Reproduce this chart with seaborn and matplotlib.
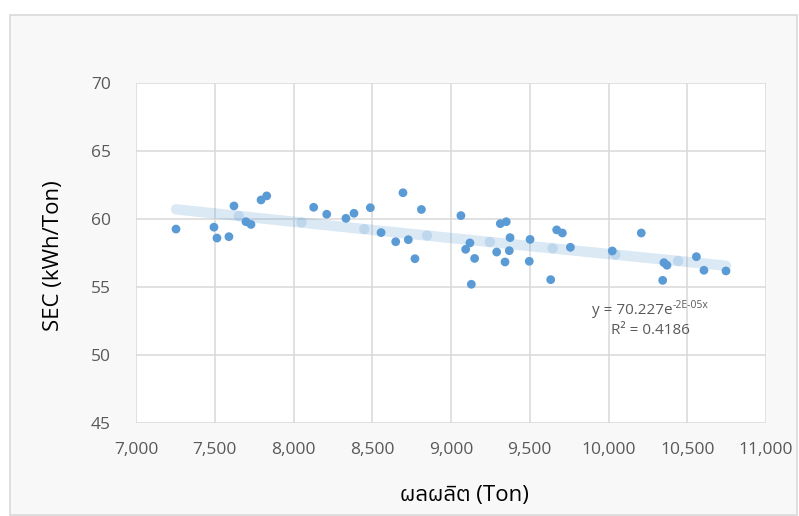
import numpy as np
import pandas as pd
import matplotlib
matplotlib.use("Agg")
import matplotlib.pyplot as plt
import seaborn as sns
from matplotlib import font_manager
from matplotlib.patches import Rectangle

# ---- data ----
production = [7254, 7495, 7514, 7590, 7622, 7698, 7730, 7794, 7830,
              8128, 8211, 8333, 8384, 8488, 8556, 8695, 8812, 8649, 8729,
              8771, 9063, 9120, 9093, 9150, 9129, 9313, 9351, 9375, 9290,
              9370, 9343, 9502, 9497, 9633, 9671, 9707, 9758, 10024,
              10208, 10352, 10371, 10344, 10558, 10606, 10746]
sec = [59.26, 59.4, 58.6, 58.7, 60.96, 59.8, 59.6, 61.4, 61.7,
       60.86, 60.35, 60.05, 60.42, 60.83, 59.0, 61.93, 60.7, 58.33, 58.48,
       57.08, 60.25, 58.24, 57.77, 57.1, 55.2, 59.66, 59.8, 58.63, 57.57,
       57.67, 56.84, 58.5, 56.89, 55.54, 59.2, 58.97, 57.92, 57.65,
       58.97, 56.79, 56.6, 55.49, 57.23, 56.23, 56.18]
x_ticks = [7000, 7500, 8000, 8500, 9000, 9500, 10000, 10500, 11000]
y_ticks = [45, 50, 55, 60, 65, 70]
x_label = "ผลผลิต (Ton)"
y_label = "SEC (kWh/Ton)"
eq_main = "y = 70.227e"
eq_sup = "-2E-05x"
r2_text = "R² = 0.4186"

df = pd.DataFrame({"production": production, "sec": sec})

# ---- find a font that has Thai glyphs ----
thai_family = None
try:
    from fontTools.ttLib import TTFont
    for fe in font_manager.fontManager.ttflist:
        try:
            f = TTFont(fe.fname, fontNumber=0, lazy=True)
            cmap = f.getBestCmap()
            if cmap and 0x0E1C in cmap and 0x0E25 in cmap:
                thai_family = fe.name
                if "Sans" in fe.name:
                    break
        except Exception:
            continue
except Exception:
    pass

sns.set_theme(style="white")
base = ["Open Sans", "DejaVu Sans"]
plt.rcParams["font.family"] = base
label_family = ["Open Sans"] + ([thai_family] if thai_family else []) + ["DejaVu Sans"]

fig = plt.figure(figsize=(7.99, 5.16), dpi=100)
fig.patch.set_facecolor("white")
# chart area box
fig.patches.append(Rectangle((10 / 799, 1 / 516), 787 / 799, 500 / 516,
                             transform=fig.transFigure, facecolor="#f8f8f8",
                             edgecolor="#d9d9d9", linewidth=1.2, zorder=-5))

ax = fig.add_axes([136 / 799, (516 - 423) / 516, 630 / 799, 340 / 516])
ax.set_zorder(2)
ax.set_facecolor("white")

blue = "#5B9BD5"
sns.scatterplot(data=df, x="production", y="sec", ax=ax, color=blue,
                s=40, edgecolor="none", linewidth=0, zorder=3, legend=False)

# exponential trendline fitted on the data, drawn as segments (Excel style)
b, ln_a = np.polyfit(df["production"], np.log(df["sec"]), 1)
xmin, xmax = df["production"].min(), df["production"].max()
knots = list(np.arange(xmin, xmax, 398.5)) + [xmax]
for x0, x1 in zip(knots[:-1], knots[1:]):
    xs = np.linspace(x0, x1, 10)
    ax.plot(xs, np.exp(ln_a + b * xs), color=blue, alpha=0.22, lw=7.5,
            solid_capstyle="round", zorder=4)

ax.set_xlim(7000, 11000)
ax.set_ylim(45, 70)
ax.set_xticks(x_ticks)
ax.set_yticks(y_ticks)
ax.set_xticklabels([f"{v:,}" for v in x_ticks])
ax.set_yticklabels([str(v) for v in y_ticks])
ax.tick_params(axis="both", length=0, labelsize=12.5, colors="#595959")
ax.tick_params(axis="x", pad=14)
ax.tick_params(axis="y", pad=18)
ax.grid(True, color="#d9d9d9", linewidth=1.1)
ax.set_axisbelow(True)
for s in ax.spines.values():
    s.set_visible(False)
ax.set_xlabel("")
ax.set_ylabel("")

fig.text(54 / 799, 1 - 256 / 516, y_label, rotation=90, ha="center", va="center",
         fontsize=16, color="black", family=base)
fig.text(464 / 799, 1 - 496 / 516, x_label, ha="center", va="center",
         fontsize=16, color="black", family=label_family)

fig.text(673 / 799, 1 - 311 / 516, eq_main, ha="right", va="center",
         fontsize=11, color="#595959", family=base, zorder=10)
fig.text(673 / 799, 1 - 306 / 516, eq_sup, ha="left", va="center",
         fontsize=7.5, color="#595959", family=base, zorder=10)
fig.text(650 / 799, 1 - 331 / 516, r2_text, ha="center", va="center",
         fontsize=11, color="#595959", family=base, zorder=10)

fig.savefig("out.png", dpi=100, facecolor=fig.get_facecolor())
